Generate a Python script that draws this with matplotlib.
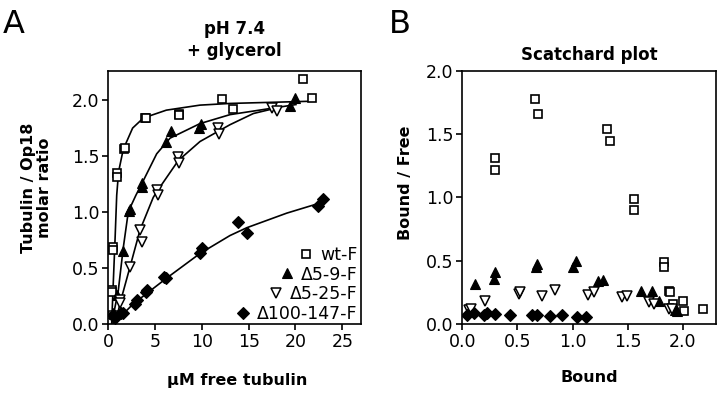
import matplotlib
matplotlib.use("Agg")
import matplotlib.pyplot as plt

# ---- panel A: binding data (free tubulin uM, tubulin/Op18 ratio)
wt_x = [0.36, 0.37, 0.47, 0.47, 0.9, 0.9, 1.7, 1.8, 3.96, 4.06, 7.6, 7.6, 12.2, 13.35, 20.8, 21.8]
wt_y = [0.30, 0.29, 0.69, 0.66, 1.35, 1.31, 1.56, 1.57, 1.84, 1.84, 1.88, 1.87, 2.01, 1.92, 2.19, 2.02]

d59_x = [0.54, 0.59, 0.9, 1.61, 2.22, 2.32, 3.65, 3.65, 6.2, 6.72, 9.68, 9.88, 19.4, 20.0]
d59_y = [0.10, 0.09, 0.26, 0.65, 1.01, 1.03, 1.26, 1.22, 1.63, 1.72, 1.75, 1.79, 1.95, 2.02]

d525_x = [0.49, 0.69, 1.2, 1.3, 2.33, 3.35, 3.55, 5.18, 5.29, 7.43, 7.53, 11.72, 11.82, 17.44, 18.05]
d525_y = [0.07, 0.05, 0.21, 0.19, 0.51, 0.84, 0.73, 1.20, 1.15, 1.49, 1.44, 1.75, 1.70, 1.93, 1.90]

d100_x = [0.49, 0.69, 1.41, 1.61, 2.84, 3.04, 4.06, 4.17, 5.9, 6.2, 9.78, 9.99, 13.87, 14.8, 22.45, 22.96]
d100_y = [0.08, 0.05, 0.10, 0.10, 0.18, 0.21, 0.29, 0.30, 0.42, 0.41, 0.63, 0.68, 0.91, 0.81, 1.05, 1.12]

# fitted curves
wt_fit_x = [0.36, 0.5, 0.72, 0.9, 1.1, 1.6, 2.6, 3.75, 6.2, 9.8, 13.0, 21.8]
wt_fit_y = [0.0, 0.3, 0.75, 1.15, 1.36, 1.56, 1.75, 1.84, 1.91, 1.955, 1.97, 1.99]
d59_fit_x = [0.36, 1.07, 1.6, 2.05, 2.45, 2.95, 3.74, 5.17, 6.6, 9.8, 13.0, 20.05]
d59_fit_y = [0.0, 0.30, 0.68, 0.95, 1.06, 1.15, 1.28, 1.52, 1.66, 1.79, 1.87, 1.96]
d525_fit_x = [0.71, 1.5, 2.32, 3.39, 4.8, 5.17, 7.48, 9.8, 13.0, 15.5, 18.0]
d525_fit_y = [0.0, 0.26, 0.51, 0.84, 1.13, 1.18, 1.46, 1.63, 1.78, 1.88, 1.93]
d100_fit_x = [0.53, 2.67, 6.24, 9.8, 13.0, 14.8, 19.06, 22.6]
d100_fit_y = [0.0, 0.18, 0.41, 0.63, 0.79, 0.86, 0.99, 1.08]

# ---- panel B: Scatchard (bound, bound/free)
wt_b = [0.30, 0.30, 0.66, 0.69, 1.31, 1.34, 1.56, 1.56, 1.83, 1.83, 1.87, 1.88, 1.91, 2.00, 2.01, 2.18]
wt_bf = [1.31, 1.22, 1.78, 1.66, 1.54, 1.45, 0.99, 0.90, 0.49, 0.45, 0.26, 0.25, 0.155, 0.18, 0.10, 0.115]

d59_b = [0.12, 0.29, 0.30, 0.67, 0.68, 1.0, 1.03, 1.23, 1.275, 1.62, 1.72, 1.78, 1.93, 1.95]
d59_bf = [0.32, 0.355, 0.41, 0.45, 0.475, 0.45, 0.50, 0.34, 0.35, 0.26, 0.26, 0.18, 0.11, 0.10]

d525_b = [0.06, 0.08, 0.21, 0.51, 0.52, 0.72, 0.84, 1.14, 1.19, 1.45, 1.49, 1.69, 1.74, 1.87, 1.90]
d525_bf = [0.11, 0.12, 0.185, 0.24, 0.25, 0.22, 0.27, 0.23, 0.25, 0.21, 0.22, 0.17, 0.16, 0.12, 0.12]

d100_b = [0.045, 0.106, 0.197, 0.227, 0.30, 0.43, 0.63, 0.68, 0.80, 0.906, 1.04, 1.12]
d100_bf = [0.07, 0.085, 0.07, 0.085, 0.08, 0.07, 0.07, 0.07, 0.06, 0.07, 0.055, 0.055]

labels = ["wt-F", "\u03945-9-F", "\u03945-25-F", "\u0394100-147-F"]
styles = [
    dict(marker="s", ms=6, mfc="white", mec="black", mew=1.2),
    dict(marker="^", ms=6.5, mfc="black", mec="black", mew=0.8),
    dict(marker="v", ms=6.5, mfc="white", mec="black", mew=1.1),
    dict(marker="D", ms=5.8, mfc="black", mec="black", mew=0.8),
]

plt.rcParams["font.family"] = "DejaVu Sans"
fig = plt.figure(figsize=(7.2, 3.93), dpi=100)
axA = fig.add_axes([0.1504, 0.1756, 0.351, 0.6438])
axB = fig.add_axes([0.642, 0.1756, 0.3524, 0.6438])

data_a = [(wt_x, wt_y), (d59_x, d59_y), (d525_x, d525_y), (d100_x, d100_y)]
fits_a = [(wt_fit_x, wt_fit_y), (d59_fit_x, d59_fit_y), (d525_fit_x, d525_fit_y), (d100_fit_x, d100_fit_y)]
for (fx, fy) in fits_a:
    axA.plot(fx, fy, color="black", lw=1.2, zorder=2)
for (x, y), lab, st in zip(data_a, labels, styles):
    axA.plot(x, y, ls="none", label=lab, zorder=3, **st)

data_b = [(wt_b, wt_bf), (d59_b, d59_bf), (d525_b, d525_bf), (d100_b, d100_bf)]
for (x, y), st in zip(data_b, styles):
    axB.plot(x, y, ls="none", zorder=3, **st)

axA.set_xlim(0, 27)
axA.set_ylim(0, 2.26)
axA.set_xticks([0, 5, 10, 15, 20, 25])
axA.set_yticks([0.0, 0.5, 1.0, 1.5, 2.0])
axA.set_yticklabels(["0.0", "0.5", "1.0", "1.5", "2.0"])

axB.set_xlim(0, 2.3)
axB.set_ylim(0, 2.0)
axB.set_xticks([0.0, 0.5, 1.0, 1.5, 2.0])
axB.set_xticklabels(["0.0", "0.5", "1.0", "1.5", "2.0"])
axB.set_yticks([0.0, 0.5, 1.0, 1.5, 2.0])
axB.set_yticklabels(["0.0", "0.5", "1.0", "1.5", "2.0"])

for ax in (axA, axB):
    for sp in ax.spines.values():
        sp.set_linewidth(1.2)
    ax.tick_params(direction="out", length=4.5, width=1.2, labelsize=12.5, pad=2)

axA.set_title("pH 7.4\n+ glycerol", fontsize=12, fontweight="bold", pad=11, linespacing=1.25)
axB.set_title("Scatchard plot", fontsize=12, fontweight="bold", pad=8)

axA.set_ylabel("Tubulin / Op18\nmolar ratio", fontsize=11.5, fontweight="bold", linespacing=1.1)
axA.yaxis.set_label_coords(-0.223, 0.537)
axA.set_xlabel("\u00b5M free tubulin", fontsize=11.5, fontweight="bold")
axA.xaxis.set_label_coords(0.511, -0.194)

axB.set_ylabel("Bound / Free", fontsize=11.5, fontweight="bold")
axB.yaxis.set_label_coords(-0.194, 0.557)
axB.set_xlabel("Bound", fontsize=11.5, fontweight="bold")
axB.xaxis.set_label_coords(0.4994, -0.182)

leg = axA.legend(loc="lower right", bbox_to_anchor=(1.0, -0.01), frameon=False,
                 fontsize=12.5, handlelength=0.6, handletextpad=0.5,
                 labelspacing=0.1, borderaxespad=0.1, borderpad=0.1)
for col in leg._legend_handle_box.get_children():
    col.align = "right"

fig.text(3 / 720, 1 - 33 / 393, "A", fontsize=23, va="baseline")
fig.text(389 / 720, 1 - 33 / 393, "B", fontsize=23, va="baseline")

fig.savefig("out.png", dpi=100)
